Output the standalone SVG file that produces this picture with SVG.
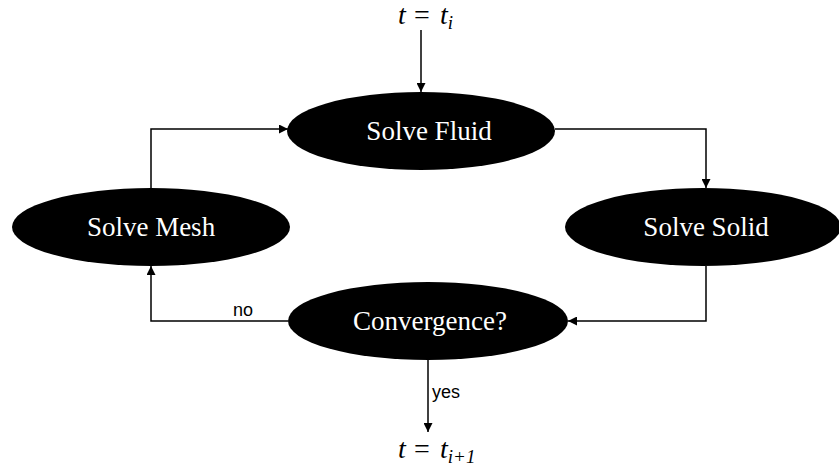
<svg xmlns="http://www.w3.org/2000/svg" width="839" height="466" viewBox="0 0 839 466">
<style>
.node{fill:#000}
.lbl{font-family:"Liberation Serif",serif;font-size:27px;fill:#fff;text-anchor:middle;dominant-baseline:central}
.edge{fill:none;stroke:#000;stroke-width:1.5}
.el{font-family:"Liberation Sans",sans-serif;font-size:18px;fill:#000}
.math{font-family:"Liberation Serif",serif;font-size:28px;fill:#000}
.it{font-style:italic}
.sub{font-size:19px;font-style:italic}
</style>
<defs>
<marker id="arr" viewBox="0 0 10 10" refX="10" refY="5" markerWidth="9" markerHeight="9" markerUnits="userSpaceOnUse" orient="auto">
<path d="M0,0 L10,5 L0,10 z" fill="#000"/>
</marker>
</defs>
<rect width="839" height="466" fill="#fff"/>
<g id="connectors">
<line class="edge" x1="421" y1="30" x2="421" y2="92" marker-end="url(#arr)"/>
<polyline class="edge" points="555,129 706,129 706,188" marker-end="url(#arr)"/>
<polyline class="edge" points="706,266 706,321 568,321" marker-end="url(#arr)"/>
<polyline class="edge" points="288,321 151,321 151,266" marker-end="url(#arr)"/>
<polyline class="edge" points="151,188 151,129 288,129" marker-end="url(#arr)"/>
<line class="edge" x1="428" y1="360" x2="428" y2="432" marker-end="url(#arr)"/>
<text class="el" x="243" y="316" text-anchor="middle">no</text>
<text class="el" x="432" y="398">yes</text>
</g>
<g id="start">
<text class="math" y="24"><tspan class="it" x="398">t</tspan><tspan x="414">=</tspan><tspan class="it" x="440">t</tspan><tspan class="sub" dy="5">i</tspan></text>
</g>
<g id="end">
<text class="math" y="458"><tspan class="it" x="398">t</tspan><tspan x="414">=</tspan><tspan class="it" x="440">t</tspan><tspan class="sub" dy="5">i+1</tspan></text>
</g>
<g id="solve-fluid">
<ellipse class="node" cx="421" cy="131" rx="134" ry="39"/>
<text class="lbl" x="429" y="131">Solve Fluid</text>
</g>
<g id="solve-mesh">
<ellipse class="node" cx="151" cy="227" rx="139" ry="39"/>
<text class="lbl" x="151" y="227">Solve Mesh</text>
</g>
<g id="solve-solid">
<ellipse class="node" cx="703" cy="227" rx="138" ry="39"/>
<text class="lbl" x="706" y="227">Solve Solid</text>
</g>
<g id="convergence">
<ellipse class="node" cx="428" cy="321" rx="140" ry="39"/>
<text class="lbl" x="430" y="321">Convergence?</text>
</g>
</svg>
